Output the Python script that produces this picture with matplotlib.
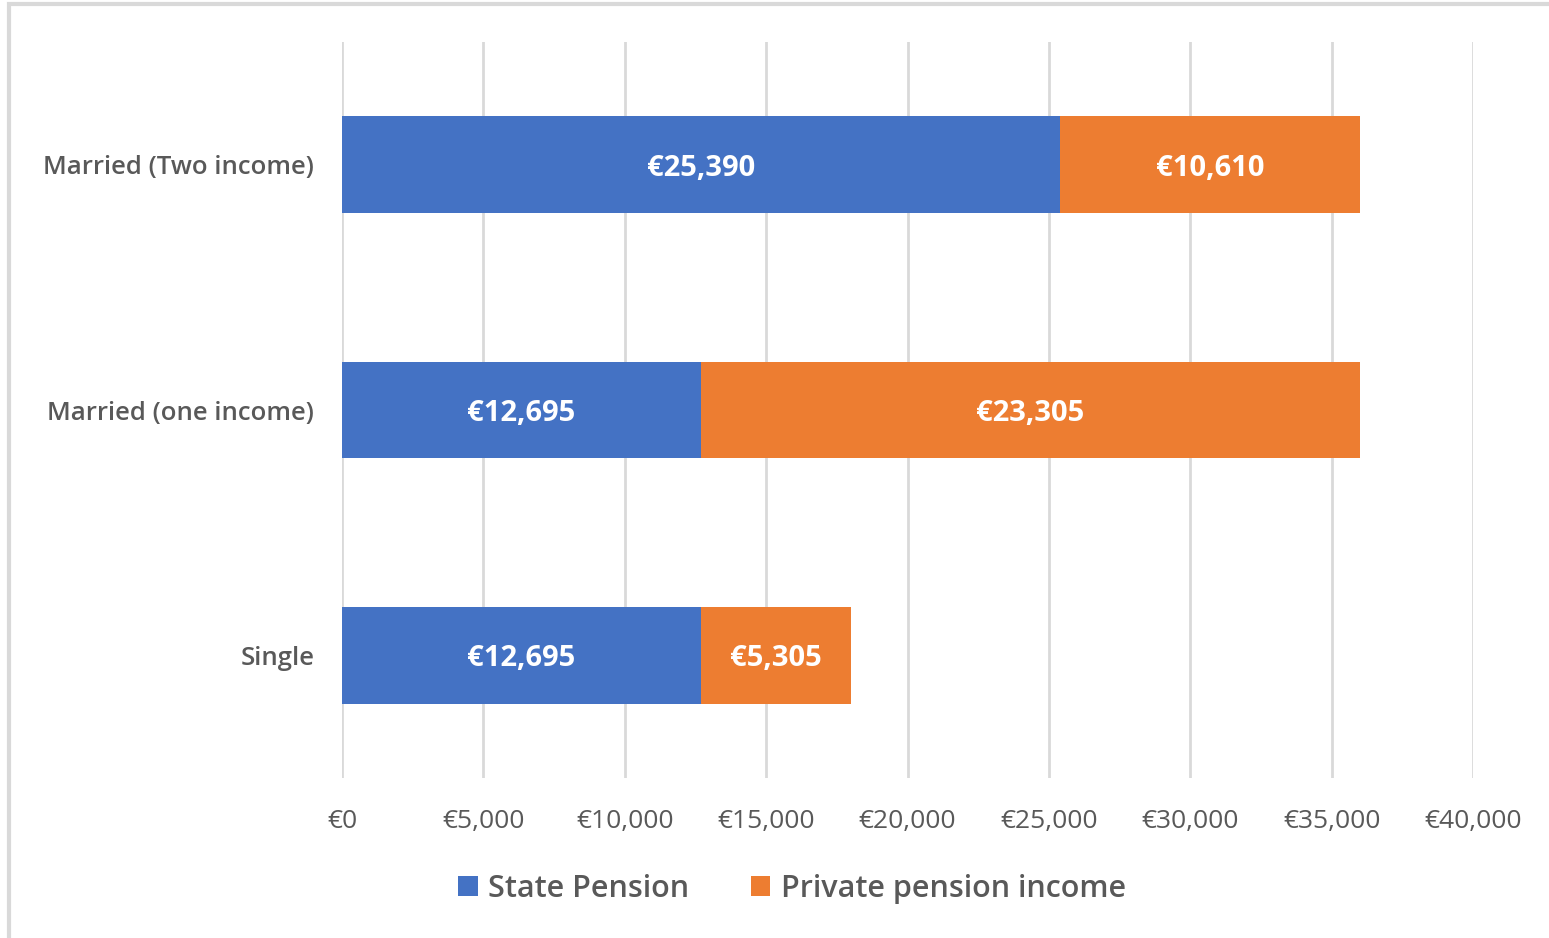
import matplotlib.pyplot as plt
from matplotlib.patches import Rectangle
from matplotlib.ticker import FuncFormatter

categories = ['Single', 'Married (one income)', 'Married (Two income)']
state_pension = [12695, 12695, 25390]
private_pension = [5305, 23305, 10610]
series_names = ['State Pension', 'Private pension income']
colors = ['#4472C4', '#ED7D31']

plt.rcParams['font.family'] = ['Open Sans', 'DejaVu Sans']
grey = '#595959'

fig = plt.figure(figsize=(15.49, 9.38), dpi=100)
# outer chart frame
fig.patches.append(Rectangle((9 / 1549, -0.01), 1.02, 1 - 4 / 938 + 0.01,
                             transform=fig.transFigure, fill=False,
                             edgecolor='#d9d9d9', linewidth=3))

ax = fig.add_axes([342 / 1549, 1 - 778 / 938, (1473 - 342) / 1549, (778 - 42) / 938])
y = range(len(categories))
h = 0.395
b1 = ax.barh(y, state_pension, height=h, color=colors[0], label=series_names[0], zorder=3)
b2 = ax.barh(y, private_pension, left=state_pension, height=h, color=colors[1],
             label=series_names[1], zorder=3)

for bars in (b1, b2):
    for r in bars:
        ax.text(r.get_x() + r.get_width() / 2, r.get_y() + r.get_height() / 2,
                '\u20ac{:,}'.format(int(r.get_width())), ha='center', va='center_baseline',
                color='white', fontsize=21, fontweight='bold', zorder=4)

ax.set_xlim(0, 40000)
ax.set_ylim(-0.5, 2.5)
ax.set_xticks(range(0, 40001, 5000))
ax.xaxis.set_major_formatter(FuncFormatter(lambda v, p: '\u20ac{:,}'.format(int(v))))
ax.set_yticks(list(y))
ax.set_yticklabels(categories, fontsize=18.5, fontweight='semibold', color=grey)
ax.tick_params(axis='x', labelsize=19, labelcolor=grey, length=0, pad=22)
ax.tick_params(axis='y', length=0, pad=20)
ax.grid(axis='x', color='#d9d9d9', linewidth=2, zorder=0)
for s in ax.spines.values():
    s.set_visible(False)

fig.legend(handles=[b1, b2], labels=series_names, loc='center',
           bbox_to_anchor=(792 / 1549, 1 - 889 / 938), ncol=2, frameon=False,
           labelcolor=grey, handlelength=0.65, handleheight=0.65,
           handletextpad=0.35, columnspacing=2.0, prop={'weight': 'semibold', 'size': 22})

fig.savefig('out.png', dpi=100)
